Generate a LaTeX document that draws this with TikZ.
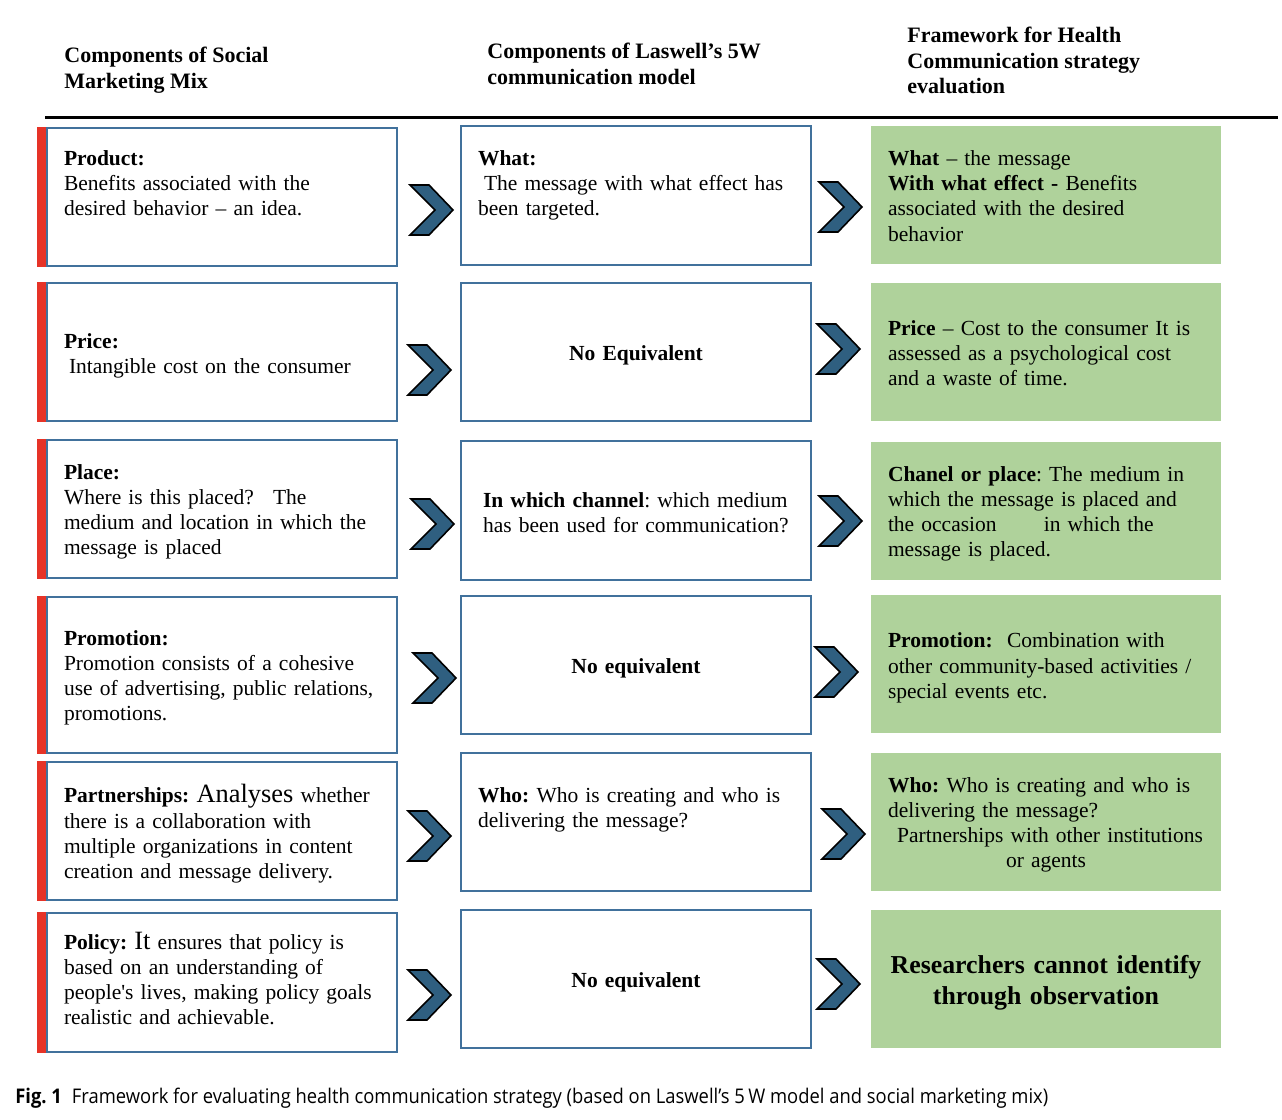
\documentclass[tikz,border=0pt]{standalone}
\usepackage{fontspec}
\setmainfont{Liberation Serif}
\newfontfamily\capfont[FakeStretch=0.91]{Open Sans}
\usetikzlibrary{calc}
\definecolor{boxblue}{HTML}{41719C}
\definecolor{chevblue}{HTML}{2F5F80}
\definecolor{cellgreen}{HTML}{AFD29B}
\definecolor{barred}{HTML}{E63327}
\frenchspacing
\newcommand{\bodyfont}{\fontsize{10.75}{12.6}\selectfont}
\newcommand{\bigword}[1]{{\fontsize{13.2}{12.6}\selectfont #1}}
\tikzset{
  cell/.style={rectangle, minimum width=175pt, text width=158pt, align=left, inner sep=0pt, font=\bodyfont},
  leftbox/.style={cell, draw=boxblue, line width=1pt},
  midbox/.style={cell, draw=boxblue, line width=1pt},
  greenbox/.style={cell, fill=cellgreen},
  hdr/.style={anchor=north west, align=left, inner sep=0pt, font=\fontsize{11}{12.7}\selectfont\bfseries},
  chev/.pic={
    \filldraw[fill=chevblue, draw=black, line width=0.8pt]
      (-21,-25) -- (-2,-25) -- (22,0) -- (-2,25) -- (-21,25) -- (4,0) -- cycle;
  }
}
\begin{document}
\begin{tikzpicture}[x=0.5pt, y=-0.5pt]
  \useasboundingbox (0,0) rectangle (1282,1120);

  % column headings
  \node[hdr] (h1) at (64,47) {Components of Social\\Marketing Mix};
  \node[hdr] (h2) at (487,43) {Components of Laswell's 5W\\communication model};
  \node[hdr] (h3) at (907,27) {Framework for Health\\Communication strategy\\evaluation};
  \draw[line width=1.5pt] (45,117) -- (1278,117);

  % social marketing mix
  \node[leftbox, minimum height=69pt, text height=6.3pt] (l1) at (222,197)
    {\textbf{Product:}\\Benefits associated with the\\desired behavior \textendash{} an idea.\\\mbox{}};
  \node[leftbox, minimum height=69pt, text height=11.4pt] (l2) at (222,352)
    {\textbf{Price:}\\\hspace{2.5pt}Intangible cost on the consumer};
  \node[leftbox, minimum height=69pt, text height=10.4pt] (l3) at (222,509)
    {\textbf{Place:}\\Where is this placed?\hspace{6pt} The\\medium and location in which the\\message is placed};
  \node[leftbox, minimum height=78pt, text height=10.4pt] (l4) at (222,675)
    {\textbf{Promotion:}\\Promotion consists of a cohesive\\use of advertising, public relations,\\promotions.};
  \node[leftbox, minimum height=69pt, text height=12pt] (l5) at (222,831)
    {\textbf{Partnerships:} \bigword{Analyses} whether\\there is a collaboration with\\multiple organizations in content\\creation and message delivery.};
  \node[leftbox, minimum height=69.5pt, text height=4.7pt] (l6) at (222,982.5)
    {\textbf{Policy:} \bigword{It} ensures that policy is\\based on an understanding of\\people\textquotesingle s lives, making policy goals\\realistic and achievable.};

  % red markers
  \foreach \n in {l1,l2,l3,l4,l5,l6}
    \fill[barred] ($(\n.south west)+(-9,0)$) rectangle (\n.north west);

  % Laswell's 5W model
  \node[midbox, minimum height=69.5pt] (m1) at (636,195.5)
    {\textbf{What:}\\\hspace{3pt}The message with what effect has\\been targeted.\\\mbox{}};
  \node[midbox, align=center, minimum height=69pt, text height=11.1pt] (m2) at (636,352)
    {\textbf{No Equivalent}};
  \node[midbox, minimum height=69.5pt, text height=9.4pt] (m3) at (636,510.5)
    {\hspace{2.5pt}\textbf{In which channel}: which medium\\\hspace{2.5pt}has been used for communication?};
  \node[midbox, align=center, minimum height=69pt, text height=11.1pt] (m4) at (636,665)
    {\textbf{No equivalent}};
  \node[midbox, minimum height=69pt, text height=5.3pt] (m5) at (636,822)
    {\textbf{Who:} Who is creating and who is\\delivering the message?\\\mbox{}};
  \node[midbox, align=center, minimum height=69pt, text height=11.1pt] (m6) at (636,979)
    {\textbf{No equivalent}};

  % evaluation framework
  \node[greenbox, minimum height=69pt, text height=8.4pt] (r1) at (1046,195)
    {\textbf{What} \textendash{} the message\\\textbf{With what effect -} Benefits\\associated with the desired\\behavior};
  \node[greenbox, minimum height=69pt, text height=8.4pt] (r2) at (1046,352)
    {\textbf{Price} \textendash{} Cost to the consumer It is\\assessed as a psychological cost\\and a waste of time.};
  \node[greenbox, minimum height=69pt, text height=10.4pt] (r3) at (1046,511)
    {\textbf{Chanel or place}: The medium in\\which the message is placed and\\the occasion\hspace{20pt} in which the\\message is placed.};
  \node[greenbox, minimum height=69pt, text height=11.4pt] (r4) at (1046,664)
    {\textbf{Promotion:}\ \ Combination with\\other community-based activities /\\special events etc.};
  \node[greenbox, minimum height=69pt, text height=10.4pt] (r5) at (1046,822)
    {\textbf{Who:} Who is creating and who is\\delivering the message?\\\makebox[158pt][c]{\hspace{4pt}Partnerships with other institutions}\\\makebox[158pt][c]{or agents}};
  \node[greenbox, align=center, text width=172pt, minimum height=69pt, text height=12.7pt, font=\fontsize{12.9}{15.5}\selectfont\bfseries] (r6) at (1046,979)
    {Researchers cannot identify\\through observation};

  % chevrons
  \pic at (431,210) {chev};
  \pic at (429,370) {chev};
  \pic at (432,524) {chev};
  \pic at (434,678) {chev};
  \pic at (429,836) {chev};
  \pic at (429,995) {chev};
  \pic at (840,207) {chev};
  \pic at (838,349) {chev};
  \pic at (840,521) {chev};
  \pic at (836,672) {chev};
  \pic at (843,834) {chev};
  \pic at (838,984) {chev};

  % caption
  \node[anchor=base west, inner sep=0pt, font=\capfont\fontsize{10.1}{12}\selectfont] (cap) at (15,1103)
    {\textbf{Fig. 1}\hspace{5pt}Framework for evaluating health communication strategy (based on Laswell\textquoteright s 5\,W model and social marketing mix)};
\end{tikzpicture}
\end{document}
